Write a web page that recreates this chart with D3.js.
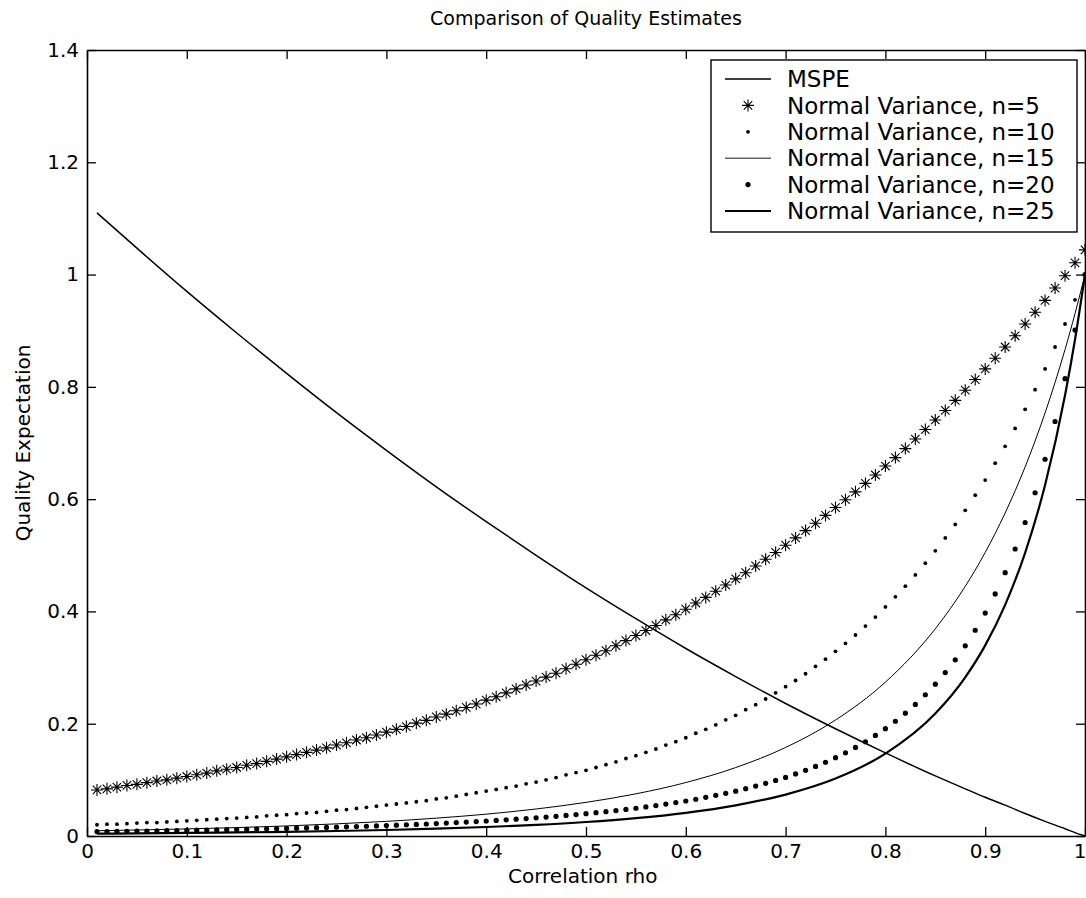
<!DOCTYPE html>
<html>
<head>
<meta charset="utf-8">
<script src="https://cdn.jsdelivr.net/npm/d3@7"></script>
<style>
  body { margin: 0; background: #fff; }
  text { font-family: "DejaVu Sans", "Liberation Sans", Arial, sans-serif; fill: #000; }
</style>
</head>
<body>
<div id="area_chart"></div>
<script>
// correlation values (x) for the marker series
const rho = [
  0.01,0.02,0.03,0.04,0.05,0.06,0.07,0.08,0.09,0.10,
  0.11,0.12,0.13,0.14,0.15,0.16,0.17,0.18,0.19,0.20,
  0.21,0.22,0.23,0.24,0.25,0.26,0.27,0.28,0.29,0.30,
  0.31,0.32,0.33,0.34,0.35,0.36,0.37,0.38,0.39,0.40,
  0.41,0.42,0.43,0.44,0.45,0.46,0.47,0.48,0.49,0.50,
  0.51,0.52,0.53,0.54,0.55,0.56,0.57,0.58,0.59,0.60,
  0.61,0.62,0.63,0.64,0.65,0.66,0.67,0.68,0.69,0.70,
  0.71,0.72,0.73,0.74,0.75,0.76,0.77,0.78,0.79,0.80,
  0.81,0.82,0.83,0.84,0.85,0.86,0.87,0.88,0.89,0.90,
  0.91,0.92,0.93,0.94,0.95,0.96,0.97,0.98,0.99,1.00
];

const varN5 = [
  0.082,0.084,0.087,0.090,0.092,0.095,0.098,0.100,0.103,0.106,
  0.109,0.112,0.116,0.119,0.122,0.126,0.129,0.133,0.137,0.141,
  0.145,0.149,0.153,0.157,0.162,0.166,0.171,0.175,0.180,0.185,
  0.190,0.195,0.201,0.206,0.212,0.217,0.223,0.229,0.235,0.242,
  0.248,0.255,0.262,0.269,0.276,0.283,0.290,0.298,0.306,0.314,
  0.322,0.330,0.339,0.348,0.357,0.366,0.375,0.385,0.394,0.404,
  0.415,0.425,0.436,0.447,0.458,0.469,0.481,0.493,0.505,0.518,
  0.531,0.544,0.557,0.571,0.585,0.599,0.613,0.628,0.643,0.659,
  0.674,0.690,0.707,0.724,0.741,0.758,0.776,0.794,0.813,0.832,
  0.851,0.871,0.891,0.912,0.933,0.954,0.976,0.998,1.021,1.044
];

const varN10 = [
  0.020,0.021,0.021,0.022,0.023,0.024,0.024,0.025,0.026,0.027,
  0.028,0.029,0.030,0.031,0.032,0.033,0.034,0.036,0.037,0.038,
  0.040,0.041,0.042,0.044,0.046,0.047,0.049,0.051,0.053,0.055,
  0.057,0.059,0.061,0.063,0.066,0.068,0.071,0.074,0.077,0.080,
  0.083,0.086,0.089,0.093,0.096,0.100,0.104,0.109,0.113,0.117,
  0.122,0.127,0.132,0.138,0.143,0.149,0.155,0.162,0.168,0.175,
  0.183,0.190,0.198,0.207,0.215,0.225,0.234,0.244,0.255,0.266,
  0.277,0.289,0.302,0.315,0.329,0.343,0.358,0.374,0.390,0.408,
  0.426,0.445,0.465,0.486,0.508,0.531,0.555,0.580,0.607,0.634,
  0.664,0.694,0.726,0.760,0.795,0.832,0.871,0.912,0.955,1.000
];

const varN20 = [
  0.0078,0.0080,0.0082,0.0085,0.0087,0.0089,0.0092,0.0095,0.0097,0.0100,
  0.0103,0.0106,0.0109,0.0112,0.0116,0.0119,0.0123,0.0127,0.0131,0.0135,
  0.0139,0.0143,0.0148,0.0153,0.0158,0.0163,0.0169,0.0174,0.0180,0.0186,
  0.0193,0.0200,0.0207,0.0214,0.0222,0.0230,0.0239,0.0248,0.0257,0.0267,
  0.0277,0.0288,0.0300,0.0311,0.0324,0.0337,0.0351,0.0366,0.0381,0.0397,
  0.0415,0.0434,0.0453,0.0473,0.0494,0.0518,0.0542,0.0568,0.0595,0.0623,
  0.0655,0.0688,0.0724,0.0760,0.0799,0.0843,0.0889,0.0938,0.0990,0.1044,
  0.1105,0.1169,0.1239,0.1314,0.1395,0.1482,0.1577,0.1679,0.1791,0.1912,
  0.2044,0.2187,0.2344,0.2516,0.2704,0.2910,0.3138,0.3388,0.3665,0.3971,
  0.4311,0.4690,0.5112,0.5584,0.6114,0.6711,0.7383,0.8146,0.9012,1.0000
];

// correlation values (x) for the solid line series
const rhoLine = [0.01,0.05,0.10,0.15,0.20,0.25,0.30,0.35,0.40,0.45,0.50,0.55,0.60,
                 0.65,0.70,0.75,0.80,0.85,0.88,0.90,0.92,0.94,0.96,0.98,0.99,1.00];

const mspe = [1.110,1.047,0.970,0.896,0.824,0.754,0.687,0.622,0.560,0.500,0.442,0.387,0.334,
              0.284,0.236,0.191,0.148,0.107,0.084,0.069,0.055,0.040,0.026,0.013,0.006,0.000];

const varN15 = [0.0094,0.0107,0.0126,0.0150,0.0179,0.0216,0.0261,0.0318,0.0389,0.0481,0.0599,0.0751,0.0952,
                0.1219,0.1577,0.2066,0.2741,0.3691,0.4446,0.5050,0.5754,0.6574,0.7536,0.8666,0.9305,1.0000];

const varN25 = [0.0041,0.0046,0.0054,0.0063,0.0075,0.0089,0.0107,0.0130,0.0160,0.0198,0.0249,0.0318,0.0413,
                0.0546,0.0738,0.1024,0.1466,0.2180,0.2826,0.3395,0.4117,0.5044,0.6252,0.7850,0.8843,1.0000];

const xTicks = [0,0.1,0.2,0.3,0.4,0.5,0.6,0.7,0.8,0.9,1];
const xTickLabels = ["0","0.1","0.2","0.3","0.4","0.5","0.6","0.7","0.8","0.9","1"];
const yTicks = [0,0.2,0.4,0.6,0.8,1,1.2,1.4];
const yTickLabels = ["0","0.2","0.4","0.6","0.8","1","1.2","1.4"];

const legendLabels = ["MSPE","Normal Variance, n=5","Normal Variance, n=10",
                      "Normal Variance, n=15","Normal Variance, n=20","Normal Variance, n=25"];

function drawChart(){
    let dimensions = {
        width: 1086,
        height: 898,
        margin: { top: 50, left: 87, right: 1, bottom: 62 }
    };
    dimensions.boundedWidth = dimensions.width - dimensions.margin.left - dimensions.margin.right;
    dimensions.boundedHeight = dimensions.height - dimensions.margin.top - dimensions.margin.bottom;

    const svg = d3.select("#area_chart").append("svg")
        .attr("width", dimensions.width)
        .attr("height", dimensions.height);

    const bounded = svg.append("g")
        .attr("transform", `translate(${dimensions.margin.left},${dimensions.margin.top})`);

    const xScale = d3.scaleLinear().domain([0, 1]).range([0, dimensions.boundedWidth]);
    const yScale = d3.scaleLinear().domain([0, 1.4]).range([dimensions.boundedHeight, 0]);

    // axes, ticks pointing inwards like matlab
    const tick = 9;
    const styleAxis = g => {
        g.select(".domain").attr("stroke-width", 1.6);
        g.selectAll(".tick line").attr("stroke-width", 1.3);
        g.selectAll(".tick text").style("font-size", "20px");
    };
    const xAxisG = bounded.append("g")
        .attr("transform", `translate(0,${dimensions.boundedHeight})`)
        .call(d3.axisBottom(xScale).tickValues(xTicks).tickFormat((d, i) => xTickLabels[i])
            .tickSizeInner(-tick).tickSizeOuter(0).tickPadding(8))
        .call(styleAxis);
    // last label sits on the page edge, keep it inside
    xAxisG.selectAll(".tick text").filter(d => d === 1).attr("text-anchor", "end").attr("x", 1);
    bounded.append("g")
        .call(d3.axisLeft(yScale).tickValues(yTicks).tickFormat((d, i) => yTickLabels[i])
            .tickSizeInner(-tick).tickSizeOuter(0).tickPadding(8))
        .call(styleAxis);
    bounded.append("g")
        .call(d3.axisTop(xScale).tickValues(xTicks).tickFormat("")
            .tickSizeInner(-tick).tickSizeOuter(0))
        .call(styleAxis);
    bounded.append("g")
        .attr("transform", `translate(${dimensions.boundedWidth},0)`)
        .call(d3.axisRight(yScale).tickValues(yTicks).tickFormat("")
            .tickSizeInner(-tick).tickSizeOuter(0))
        .call(styleAxis);
    bounded.selectAll(".domain").attr("fill", "none");

    // solid line series
    const lineGen = values => d3.line()
        .x((d, i) => xScale(rhoLine[i]))
        .y(d => yScale(d))
        .curve(d3.curveMonotoneX)(values);

    bounded.append("path").attr("d", lineGen(mspe))
        .attr("fill", "none").attr("stroke", "#000").attr("stroke-width", 1.5);
    bounded.append("path").attr("d", lineGen(varN15))
        .attr("fill", "none").attr("stroke", "#000").attr("stroke-width", 1);
    bounded.append("path").attr("d", lineGen(varN25))
        .attr("fill", "none").attr("stroke", "#000").attr("stroke-width", 2.2);

    // star markers, n=5
    const r = 6, dd = r * 0.7071;
    const starPath = `M${-r},0H${r}M0,${-r}V${r}M${-dd},${-dd}L${dd},${dd}M${-dd},${dd}L${dd},${-dd}`;
    bounded.append("g").selectAll("path")
        .data(varN5)
        .join("path")
        .attr("transform", (d, i) => `translate(${xScale(rho[i])},${yScale(d)})`)
        .attr("d", starPath)
        .attr("fill", "none").attr("stroke", "#000").attr("stroke-width", 1.1);

    // dot markers, n=10 and n=20
    bounded.append("g").selectAll("circle")
        .data(varN10)
        .join("circle")
        .attr("cx", (d, i) => xScale(rho[i]))
        .attr("cy", d => yScale(d))
        .attr("r", 1.9).attr("fill", "#000");
    bounded.append("g").selectAll("circle")
        .data(varN20)
        .join("circle")
        .attr("cx", (d, i) => xScale(rho[i]))
        .attr("cy", d => yScale(d))
        .attr("r", 2.6).attr("fill", "#000");

    // axis labels and title
    svg.append("text")
        .attr("x", dimensions.margin.left + dimensions.boundedWidth / 2 - 78)
        .attr("y", 883)
        .style("font-size", "20px")
        .text("Correlation rho");
    svg.append("text")
        .attr("transform", `translate(30,${dimensions.margin.top + dimensions.boundedHeight / 2}) rotate(-90)`)
        .attr("text-anchor", "middle")
        .style("font-size", "20px")
        .text("Quality Expectation");
    svg.append("text")
        .attr("x", dimensions.margin.left + dimensions.boundedWidth / 2)
        .attr("y", 25)
        .attr("text-anchor", "middle")
        .style("font-size", "19px")
        .text("Comparison of Quality Estimates");

    // legend
    const legend = svg.append("g").attr("transform", "translate(711,60)");
    legend.append("rect")
        .attr("width", 366).attr("height", 172)
        .attr("fill", "#fff").attr("stroke", "#000").attr("stroke-width", 1.4);
    const rowY = i => 19 + i * 26.4;
    const sampleX0 = 14, sampleX1 = 60, markX = 37, textX = 76;
    legendLabels.forEach((label, i) => {
        const row = legend.append("g").attr("transform", `translate(0,${rowY(i)})`);
        if (i === 0 || i === 3 || i === 5) {
            row.append("line")
                .attr("x1", sampleX0).attr("x2", sampleX1)
                .attr("stroke", "#000")
                .attr("stroke-width", i === 5 ? 2.2 : (i === 3 ? 0.9 : 1.5));
        } else if (i === 1) {
            row.append("path")
                .attr("transform", `translate(${markX},0)`)
                .attr("d", starPath)
                .attr("fill", "none").attr("stroke", "#000").attr("stroke-width", 1.1);
        } else {
            row.append("circle")
                .attr("cx", markX).attr("r", i === 2 ? 1.9 : 2.6).attr("fill", "#000");
        }
        row.append("text")
            .attr("x", textX).attr("dy", "0.36em")
            .style("font-size", "23px")
            .text(label);
    });
}

drawChart();
</script>
</body>
</html>
